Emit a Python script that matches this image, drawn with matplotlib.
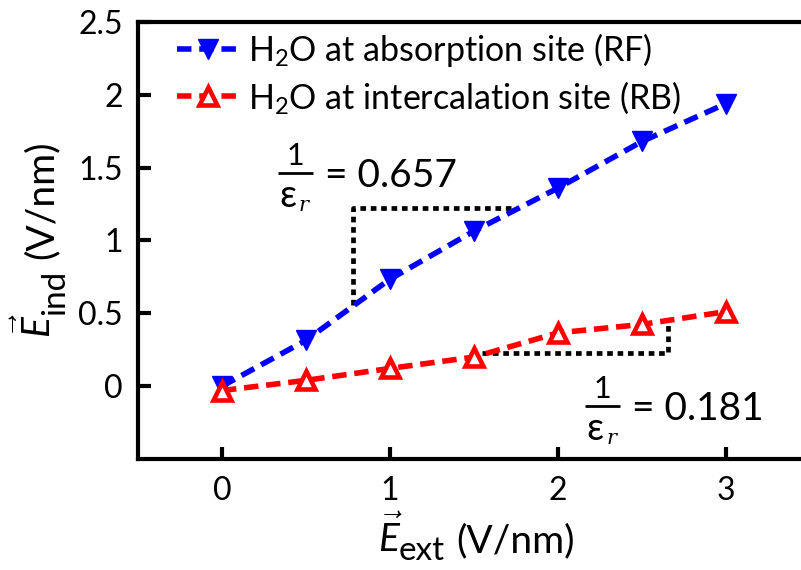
import matplotlib
matplotlib.use('Agg')
import matplotlib.pyplot as plt

plt.rcParams['font.family'] = ['Lato', 'DejaVu Sans']
plt.rcParams['mathtext.fontset'] = 'custom'
plt.rcParams['mathtext.rm'] = 'Lato'
plt.rcParams['mathtext.it'] = 'Lato:italic'
plt.rcParams['mathtext.bf'] = 'Lato:bold'

# data
e_ext = [0, 0.5, 1, 1.5, 2, 2.5, 3]
e_rf = [0.0, 0.315, 0.735, 1.065, 1.36, 1.68, 1.94]
e_rb = [-0.03, 0.04, 0.122, 0.2, 0.366, 0.424, 0.512]
label_rf = r'H$_2$O at absorption site (RF)'
label_rb = r'H$_2$O at intercalation site (RB)'

# slope guides
guide_rf_x = [0.78, 0.78, 1.75]
guide_rf_y = [0.56, 1.22, 1.22]
guide_rb_x = [1.55, 2.655, 2.655]
guide_rb_y = [0.229, 0.229, 0.425]

# 1/eps_r annotations: (bar left x, bar y, value)
slopes = [(0.333, 1.464, '0.657'), (2.161, -0.137, '0.181')]

fig = plt.figure(figsize=(8.01, 5.70), dpi=100)
ax = fig.add_axes([138/801, 1 - 459/570, (810-138)/801, (459-22)/570])

ax.plot(e_ext, e_rf, color='blue', ls='--', dashes=(2.6, 1.4), lw=4,
        marker='v', ms=15, mfc='blue', mec='blue', label=label_rf)
ax.plot(e_ext, e_rb, color='red', ls='--', dashes=(2.6, 1.4), lw=4,
        marker='^', ms=13.5, mfc='white', mec='red', mew=3.3, label=label_rb)

ax.plot(guide_rf_x, guide_rf_y, color='black', ls=':', dashes=(1.2, 1.0), lw=3.4, zorder=1)
ax.plot(guide_rb_x, guide_rb_y, color='black', ls=':', dashes=(1.2, 1.0), lw=3.4, zorder=1)

# hand-built fraction 1/eps_r = value
for bx, by, val in slopes:
    ax.plot([bx, bx + 35/168], [by, by], color='black', lw=2, solid_capstyle='butt')
    kw = dict(xy=(bx, by), textcoords='offset pixels', va='baseline')
    ax.annotate('1', xytext=(17, 8), fontsize=22, ha='center', **kw)
    ax.annotate('ε', xytext=(1, -34), fontsize=27, ha='left', **kw)
    ax.annotate('r', xytext=(21, -38), fontsize=15, ha='left',
                family='DejaVu Serif', style='italic', **kw)
    ax.annotate('= ' + val, xytext=(47, -14), fontsize=28, ha='left', **kw)

ax.set_xlim(-0.5, 3.5)
ax.set_ylim(-0.5, 2.5)
ax.set_xticks([0, 1, 2, 3])
ax.set_xticklabels(['0', '1', '2', '3'])
ax.set_yticks([0, 0.5, 1, 1.5, 2, 2.5])
ax.set_yticklabels(['0', '0.5', '1', '1.5', '2', '2.5'])
ax.tick_params(axis='both', direction='in', length=9, width=3, labelsize=23)
ax.tick_params(axis='y', pad=11)
ax.tick_params(axis='x', pad=12)
ax.yaxis.set_ticks_position('left')
ax.xaxis.set_ticks_position('bottom')
for s in ax.spines.values():
    s.set_linewidth(3)

# axis labels: E-vector with a full size subscript
fig.text(378/801, 1 - 552/570, r'$\vec{E}$', fontsize=28, ha='left', va='baseline')
fig.text(399/801, 1 - 560/570, 'ext', fontsize=24, ha='left', va='baseline')
fig.text(456/801, 1 - 552/570, '(V/nm)', fontsize=28, ha='left', va='baseline')

ylab = dict(rotation=90, ha='left', va='baseline', rotation_mode='anchor')
fig.text(51/801, 1 - 338/570, r'$\vec{E}$', fontsize=28, **ylab)
fig.text(64/801, 1 - 315/570, 'ind', fontsize=24, **ylab)
fig.text(53/801, 1 - 259/570, '(V/nm)', fontsize=28, **ylab)

ax.legend(loc='upper left', bbox_to_anchor=(0.058, 0.98), frameon=False,
          fontsize=24.5, handlelength=1.8, handletextpad=0.3,
          labelspacing=0.3, borderaxespad=0, borderpad=0)

fig.savefig('out.png', dpi=100)
